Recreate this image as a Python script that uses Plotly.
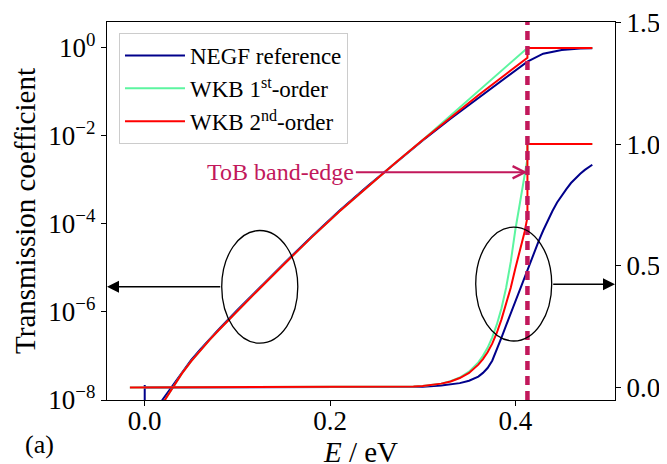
import plotly.graph_objects as go

# ---------------- data ----------------
BAND_EDGE = 0.413  # eV, ToB band-edge

# Log-scale transmission (left axis), values given as log10(T)
E_log_negf = [0.0, 0.0001, 0.008, 0.019, 0.03, 0.04, 0.05, 0.06, 0.07, 0.08, 0.10, 0.12, 0.15, 0.18,
              0.21, 0.24, 0.27, 0.30, 0.33, 0.36, 0.39, 0.413, 0.43, 0.45, 0.47, 0.483]
log10T_log_negf = [-7.66, -11.0, -8.55, -8.0, -7.68, -7.375, -7.095, -6.848, -6.615, -6.39, -5.955,
                   -5.53, -4.90, -4.29, -3.70, -3.15, -2.62, -2.10, -1.61, -1.14, -0.69, -0.31,
                   -0.13, -0.045, -0.012, -0.005]

E_log_wkb1 = [0.015, 0.0216, 0.03, 0.04, 0.05, 0.06, 0.07, 0.08, 0.10, 0.12, 0.15, 0.18, 0.21, 0.24,
              0.27, 0.30, 0.33, 0.36, 0.39, 0.413, 0.483]
log10T_log_wkb1 = [-8.22, -8.0, -7.71, -7.40, -7.12, -6.87, -6.635, -6.41, -5.975, -5.55, -4.92,
                   -4.305, -3.715, -3.16, -2.62, -2.09, -1.53, -0.97, -0.43, 0.0, 0.0]

E_log_wkb2 = [0.015, 0.0216, 0.03, 0.04, 0.05, 0.06, 0.07, 0.08, 0.10, 0.12, 0.15, 0.18, 0.21, 0.24,
              0.27, 0.30, 0.33, 0.36, 0.39, 0.413, 0.413, 0.483]
log10T_log_wkb2 = [-8.22, -8.0, -7.71, -7.40, -7.12, -6.87, -6.635, -6.41, -5.975, -5.55, -4.92,
                   -4.305, -3.715, -3.16, -2.62, -2.09, -1.575, -1.075, -0.59, -0.225, 0.0, 0.0]

# Linear-scale transmission (right axis)
E_lin_negf = [0.0, 0.28, 0.30, 0.32, 0.34, 0.35, 0.36, 0.365, 0.37, 0.375, 0.38, 0.385, 0.39, 0.395,
              0.40, 0.405, 0.41, 0.415, 0.42, 0.425, 0.43, 0.435, 0.44, 0.445, 0.45, 0.455, 0.46,
              0.465, 0.47, 0.475, 0.483]
T_lin_negf = [0.0, 0.001, 0.003, 0.008, 0.018, 0.028, 0.045, 0.06, 0.08, 0.11, 0.155, 0.205, 0.255,
              0.305, 0.355, 0.40, 0.45, 0.50, 0.55, 0.60, 0.645, 0.688, 0.725, 0.76, 0.79, 0.815,
              0.84, 0.86, 0.878, 0.894, 0.915]

E_lin_wkb1 = [-0.016, 0.28, 0.29, 0.30, 0.31, 0.32, 0.33, 0.34, 0.35, 0.36, 0.365, 0.37, 0.375,
              0.38, 0.385, 0.39, 0.395, 0.40, 0.405, 0.409, 0.413, 0.413, 0.483]
T_lin_wkb1 = [0.0, 0.002, 0.004, 0.006, 0.01, 0.016, 0.026, 0.041, 0.065, 0.103, 0.13, 0.163, 0.206,
              0.259, 0.326, 0.41, 0.516, 0.649, 0.76, 0.85, 0.94, 1.0, 1.0]

E_lin_wkb2 = [-0.016, 0.28, 0.29, 0.30, 0.31, 0.32, 0.33, 0.34, 0.35, 0.36, 0.365, 0.37, 0.375,
              0.38, 0.385, 0.39, 0.395, 0.40, 0.405, 0.41, 0.413, 0.413, 0.483]
T_lin_wkb2 = [0.0, 0.002, 0.004, 0.006, 0.01, 0.016, 0.025, 0.039, 0.06, 0.094, 0.117, 0.145, 0.18,
              0.225, 0.28, 0.34, 0.41, 0.49, 0.565, 0.64, 0.70, 1.0, 1.0]

x_ticks = [0.0, 0.2, 0.4]
x_ticktext = ["0.0", "0.2", "0.4"]
yl_ticks = [1e-8, 1e-6, 1e-4, 1e-2, 1e0]
yl_ticktext = ["10<sup>\u22128</sup>", "10<sup>\u22126</sup>", "10<sup>\u22124</sup>",
               "10<sup>\u22122</sup>", "10<sup>0</sup>"]
yr_ticks = [0.0, 0.5, 1.0, 1.5]
yr_ticktext = ["0.0", "0.5", "1.0", "1.5"]

names = ["NEGF reference", "WKB 1<sup>st</sup>-order", "WKB 2<sup>nd</sup>-order"]

# ---------------- style ----------------
FONT = "Liberation Serif"
C_NEGF = "#00008B"
C_WKB1 = "#5CF5A0"
C_WKB2 = "#FF0000"
C_EDGE = "#C2185B"
LW = 2


def pow10(vals):
    return [10 ** v for v in vals]


fig = go.Figure()

# log traces (left axis)
fig.add_trace(go.Scatter(x=E_log_negf, y=pow10(log10T_log_negf), mode="lines", name=names[0],
                         line=dict(color=C_NEGF, width=LW), yaxis="y"))
fig.add_trace(go.Scatter(x=E_log_wkb1, y=pow10(log10T_log_wkb1), mode="lines", name=names[1],
                         line=dict(color=C_WKB1, width=LW), yaxis="y"))
fig.add_trace(go.Scatter(x=E_log_wkb2, y=pow10(log10T_log_wkb2), mode="lines", name=names[2],
                         line=dict(color=C_WKB2, width=LW), yaxis="y"))
# linear traces (right axis)
fig.add_trace(go.Scatter(x=E_lin_negf, y=T_lin_negf, mode="lines", showlegend=False,
                         line=dict(color=C_NEGF, width=LW), yaxis="y2"))
fig.add_trace(go.Scatter(x=E_lin_wkb1, y=T_lin_wkb1, mode="lines", showlegend=False,
                         line=dict(color=C_WKB1, width=LW), yaxis="y2"))
fig.add_trace(go.Scatter(x=E_lin_wkb2, y=T_lin_wkb2, mode="lines", showlegend=False,
                         line=dict(color=C_WKB2, width=LW), yaxis="y2"))

# band edge dashed line
fig.add_shape(type="line", xref="x", yref="paper", x0=BAND_EDGE, x1=BAND_EDGE, y0=0, y1=1,
              line=dict(color=C_EDGE, width=4.5, dash="9px,6px"), layer="above")

# ellipses
fig.add_shape(type="circle", xref="x", yref="y2", x0=0.0831, x1=0.1652, y0=0.182, y1=0.645,
              line=dict(color="black", width=1.3))
fig.add_shape(type="circle", xref="x", yref="y2", x0=0.3572, x1=0.4392, y0=0.191, y1=0.659,
              line=dict(color="black", width=1.3))

annotations = [
    dict(x=-0.0407, y=0.4136, xref="x", yref="y2", ax=0.0831, ay=0.4136, axref="x", ayref="y2",
         text="", showarrow=True, arrowhead=2, arrowsize=1.6, arrowwidth=1.5, arrowcolor="black",
         standoff=0),
    dict(x=0.5075, y=0.4247, xref="x", yref="y2", ax=0.4392, ay=0.4247, axref="x", ayref="y2",
         text="", showarrow=True, arrowhead=2, arrowsize=1.6, arrowwidth=1.5, arrowcolor="black",
         standoff=0),
    dict(x=BAND_EDGE, y=0.884, xref="x", yref="y2", ax=0.1469, ay=0.884, axref="x", ayref="y2",
         text="ToB band-edge", showarrow=True, arrowhead=5, arrowsize=1.2, arrowwidth=2,
         arrowcolor=C_EDGE, standoff=0, font=dict(family=FONT, size=24, color=C_EDGE)),
    dict(x=-0.132, y=-0.119, xref="paper", yref="paper", text="(a)", showarrow=False,
         font=dict(family=FONT, size=26, color="black"), xanchor="center", yanchor="middle"),
]

axis_common = dict(showgrid=False, zeroline=False, showline=True, linecolor="black", linewidth=1.3,
                   ticks="outside", ticklen=5, tickwidth=1.3, tickcolor="black",
                   tickfont=dict(family=FONT, size=27, color="black"), automargin=False,
                   ticklabeloverflow="allow")

# the page body adds an 8 px offset, so the figure is laid out 8 px up/left
fig.update_layout(
    width=659, height=464,
    margin=dict(l=99, r=52, t=14, b=72),
    paper_bgcolor="white", plot_bgcolor="white",
    font=dict(family=FONT, color="black"),
    xaxis=dict(range=[-0.0407, 0.5075], tickvals=x_ticks, ticktext=x_ticktext, mirror=True,
               ticklabelstandoff=-9,
               title=dict(text="<i>E</i> / eV", font=dict(family=FONT, size=29), standoff=6),
               **axis_common),
    yaxis=dict(type="log", range=[-8, 0.59], tickvals=yl_ticks, ticktext=yl_ticktext, mirror=True,
               title=dict(text="Transmission coefficient", font=dict(family=FONT, size=29), standoff=4),
               **axis_common),
    yaxis2=dict(overlaying="y", side="right", range=[-0.0513, 1.5015], tickvals=yr_ticks,
                ticktext=yr_ticktext, **axis_common),
    legend=dict(x=0.0236, y=0.971, xanchor="left", yanchor="top",
                bgcolor="rgba(255,255,255,0.85)", bordercolor="#CCCCCC", borderwidth=1,
                font=dict(family=FONT, size=23, color="black"), traceorder="normal",
                itemwidth=60),
    annotations=annotations,
    showlegend=True,
)

fig.write_html("out.html")
